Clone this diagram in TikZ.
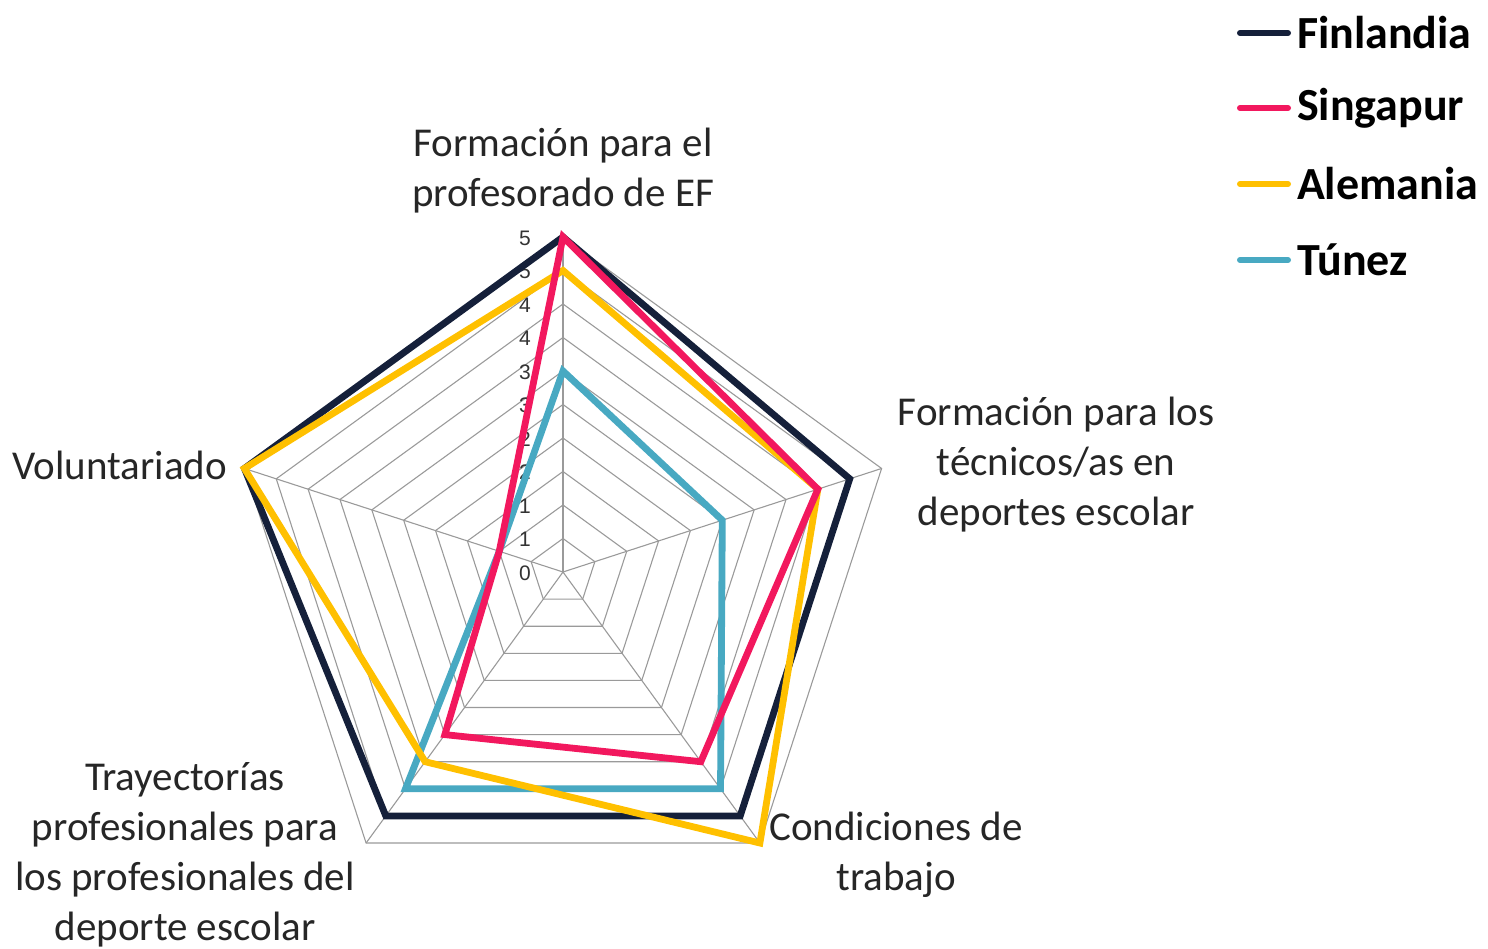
\documentclass[tikz,border=0pt]{standalone}
\usepackage{fontspec}
\setmainfont{Carlito}
\newfontfamily\tickfont{Liberation Sans}
\usepackage{tikz}
\usetikzlibrary{positioning}

\definecolor{finlandia}{HTML}{15203A}
\definecolor{singapur}{HTML}{F2185E}
\definecolor{alemania}{HTML}{FFC000}
\definecolor{tunez}{HTML}{48A9C2}
\definecolor{rejilla}{HTML}{9A9A9A}

\tikzset{
	rejillaline/.style={draw=rejilla, line width=0.55pt},
	serie/.style={line width=3.4pt, line join=miter},
	eje/.style={align=center, text=black!85, font=\fontsize{20.5}{25}\selectfont},
	marca/.style={text=black!80, font=\tickfont\fontsize{10.5}{10.5}\selectfont, inner sep=0pt},
	leyenda/.style={right, inner sep=0pt, font=\bfseries\fontsize{23}{23}\selectfont},
}

\begin{document}
\begin{tikzpicture}[x=0.5pt,y=0.5pt]
	\useasboundingbox (-563,-376) rectangle (925,572);
	% rejilla
	\foreach \r in {1,...,10}
		\draw[rejillaline] (90:\r*33.5) -- (18:\r*33.5) -- (-54:\r*33.5) -- (-126:\r*33.5) -- (162:\r*33.5) -- cycle;
	\foreach \a in {90,18,-54,-126,162}
		\draw[rejillaline] (0,0) -- (\a:335);
	\foreach \v/\t in {0/0,1/1,2/1,3/2,4/2,5/3,6/3,7/4,8/4,9/5,10/5}
		\node[marca] (m\v) at (-38,\v*33.5-1) {\t};

	% series
	\draw[serie, finlandia] (90:335) -- (18:301.5) -- (-54:301.5) -- (-126:301.5) -- (162:335) -- cycle;
	\draw[serie, tunez] (90:201) -- (18:167.5) -- (-54:268) -- (-126:268) -- (162:67) -- cycle;
	\draw[serie, alemania] (90:301.5) -- (18:268) -- (-54:335) -- (-126:234.5) -- (162:335) -- cycle;
	\draw[serie, singapur] (90:335) -- (18:268) -- (-54:234.5) -- (-126:201) -- (162:67) -- cycle;

	% ejes
	\node[eje] (formEF) at (0,401) {Formación para el\\profesorado de EF};
	\node[eje] (formTec) at (493,107) {Formación para los\\técnicos/as en\\deportes escolar};
	\node[eje] (condic) at (333,-283) {Condiciones de\\trabajo};
	\node[eje] (trayec) at (-378,-283) {Trayectorías\\profesionales para\\los profesionales del\\deporte escolar};
	\node[eje, anchor=east] (volunt) at (-329,107) {Voluntariado};

	% leyenda
	\draw[finlandia, line width=3pt, line cap=round] (677,539) -- (725,539) node[leyenda, black] (lfin) at (731,539) {Finlandia};
	\draw[singapur, line width=3pt, line cap=round] (677,464) -- (725,464) node[leyenda, black] (lsin) at (731,464) {Singapur};
	\draw[alemania, line width=3pt, line cap=round] (677,388) -- (725,388) node[leyenda, black] (lale) at (731,388) {Alemania};
	\draw[tunez, line width=3pt, line cap=round] (677,312) -- (725,312) node[leyenda, black] (ltun) at (731,312) {Túnez};
\end{tikzpicture}
\end{document}
